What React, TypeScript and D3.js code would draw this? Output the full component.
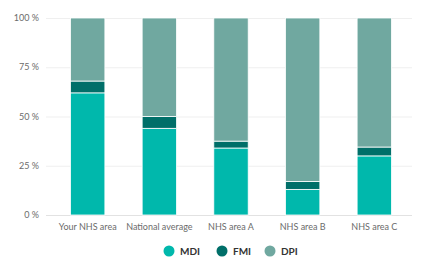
import { useEffect, useRef } from "react";
import * as d3 from "d3";

const categories = ["Your NHS area", "National average", "NHS area A", "NHS area B", "NHS area C"];
const mdi = [62, 44, 34, 13, 30];
const fmi = [6, 6, 3.5, 4, 4.5];
const dpi = [32, 50, 62.5, 83, 65.5];
const seriesNames = ["MDI", "FMI", "DPI"];
const seriesColors = ["#00b8ac", "#006f69", "#70a8a0"];
const yTicks = [0, 25, 50, 75, 100];

const W = 430;
const H = 258;

const App = () => {
  const ref = useRef<SVGSVGElement>(null);

  useEffect(() => {
    const svg = d3.select(ref.current);
    svg.selectAll("*").remove();

    const font = "Lato, 'Open Sans', sans-serif";

    const x = d3.scaleBand<string>().domain(categories).range([49, 413]).paddingInner(0.52).paddingOuter(0.3);
    const y = d3.scaleLinear().domain([0, 100]).range([215, 18]);

    // grid lines
    svg
      .append("g")
      .selectAll("line")
      .data(yTicks)
      .enter()
      .append("line")
      .attr("x1", 46)
      .attr("x2", 412)
      .attr("y1", (d) => y(d) + 0.5)
      .attr("y2", (d) => y(d) + 0.5)
      .attr("stroke", (d) => (d === 0 ? "#e2e2e2" : "#efefef"))
      .attr("stroke-width", 1);

    // y labels
    svg
      .append("g")
      .selectAll("text")
      .data(yTicks)
      .enter()
      .append("text")
      .attr("x", 39)
      .attr("y", (d) => y(d))
      .attr("dy", "0.35em")
      .attr("text-anchor", "end")
      .attr("font-family", font)
      .attr("font-size", 9)
      .attr("fill", "#6b6b6b")
      .text((d) => `${d} %`);

    // stacked bars
    const rows = categories.map((c, i) => ({ cat: c, MDI: mdi[i], FMI: fmi[i], DPI: dpi[i] }));
    const stack = d3.stack<any>().keys(seriesNames)(rows);

    svg
      .append("g")
      .selectAll("g")
      .data(stack)
      .enter()
      .append("g")
      .attr("fill", (_, i) => seriesColors[i])
      .selectAll("rect")
      .data((d) => d)
      .enter()
      .append("rect")
      .attr("x", (d: any) => x(d.data.cat)!)
      .attr("width", x.bandwidth())
      .attr("y", (d) => y(d[1]))
      .attr("height", (d) => y(d[0]) - y(d[1]))
      .attr("stroke", "#ffffff")
      .attr("stroke-width", 0.8);

    // category labels
    svg
      .append("g")
      .selectAll("text")
      .data(categories)
      .enter()
      .append("text")
      .attr("x", (d) => x(d)! + x.bandwidth() / 2)
      .attr("y", 227)
      .attr("dy", "0.35em")
      .attr("text-anchor", "middle")
      .attr("font-family", font)
      .attr("font-size", 9)
      .attr("fill", "#6b6b6b")
      .text((d) => d);

    // legend
    const legendX = [169, 222, 270];
    const lg = svg
      .append("g")
      .selectAll("g")
      .data(seriesNames)
      .enter()
      .append("g")
      .attr("transform", (_, i) => `translate(${legendX[i]},251)`);
    lg.append("circle").attr("r", 5.5).attr("fill", (_, i) => seriesColors[i]);
    lg.append("text")
      .attr("x", 11)
      .attr("dy", "0.35em")
      .attr("font-family", font)
      .attr("font-size", 10)
      .attr("font-weight", 700)
      .attr("fill", "#333333")
      .text((d) => d);
  }, []);

  return (
    <svg
      ref={ref}
      width={W}
      height={H}
      style={{ position: "absolute", left: 0, top: 0, background: "#ffffff" }}
    />
  );
};

export default App;
